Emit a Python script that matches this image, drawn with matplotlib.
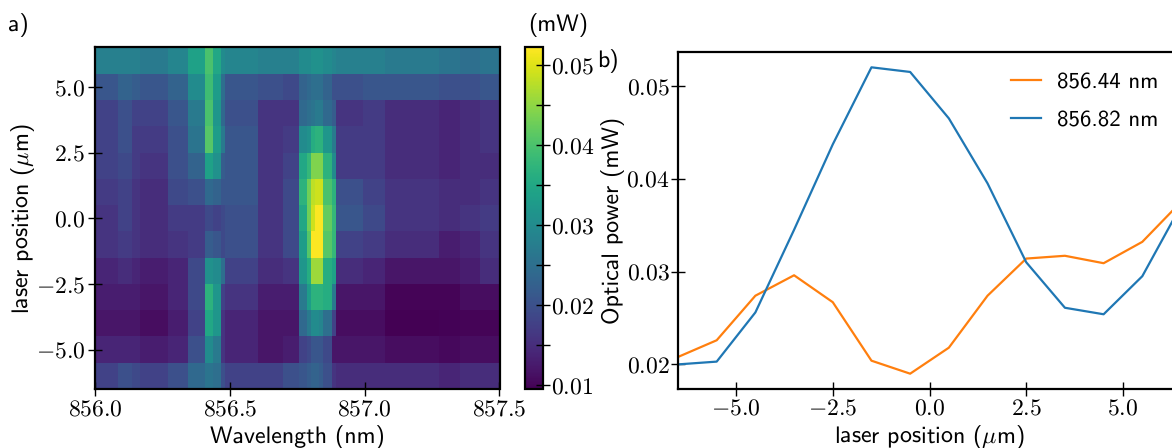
import matplotlib
matplotlib.use("Agg")
import matplotlib.pyplot as plt
import numpy as np
from matplotlib.ticker import FixedLocator

plt.rcParams["mathtext.fontset"] = "cm"
plt.rcParams["text.hinting"] = "no_hinting"
plt.rcParams["text.hinting_factor"] = 1

W, H = 1172, 448

wavelength_edges = [856.000, 856.087, 856.136, 856.167, 856.272, 856.346, 856.408, 856.439,
                    856.467, 856.482, 856.606, 856.699, 856.757, 856.785, 856.801, 856.816, 856.832,
                    856.847, 856.880, 856.894, 856.995, 857.076, 857.274, 857.354, 857.428, 857.500]
position_edges = [-6.5, -5.5, -4.5, -3.5, -2.5, -1.5, -0.5, 0.5, 1.5, 2.5, 3.5, 4.5, 5.5, 6.5]

row_m6 = [.018, .020, .019, .018, .020, .024, .026, .025, .020, .018, .018, .020, .021, .022, .023, .023, .022, .020, .016, .015, .015, .015, .014, .015, .015]
row_m5 = [.014, .014, .014, .013, .014, .020, .030, .027, .016, .014, .012, .013, .018, .019, .021, .021, .021, .019, .012, .012, .012, .011, .0105, .011, .011]
row_m4 = [.012, .012, .012, .011, .013, .018, .035, .032, .016, .014, .012, .012, .024, .027, .030, .030, .029, .025, .018, .011, .011, .0095, .0098, .010, .010]
row_m3 = [.013, .013, .013, .012, .014, .019, .037, .032, .018, .016, .013, .013, .027, .033, .037, .037, .037, .036, .027, .012, .012, .010, .010, .011, .011]
row_m2 = [.014, .015, .014, .013, .014, .019, .031, .030, .025, .018, .015, .016, .032, .036, .046, .046, .046, .036, .034, .015, .014, .012, .012, .013, .015]
row_m1 = [.016, .017, .016, .015, .016, .017, .022, .021, .019, .020, .016, .019, .033, .041, .052, .052, .052, .041, .038, .018, .017, .015, .013, .014, .016]
row_0 = [.016, .018, .016, .015, .017, .017, .019, .018, .019, .020, .016, .019, .035, .043, .049, .052, .052, .042, .038, .021, .019, .016, .015, .016, .017]
row_p1 = [.017, .018, .016, .015, .019, .020, .024, .023, .021, .021, .016, .019, .037, .043, .048, .049, .049, .040, .037, .020, .018, .016, .015, .015, .016]
row_p2 = [.018, .019, .017, .016, .020, .023, .034, .031, .022, .021, .016, .018, .035, .038, .044, .044, .044, .037, .030, .017, .017, .015, .014, .015, .015]
row_p3 = [.018, .020, .017, .017, .020, .026, .041, .033, .027, .021, .016, .017, .030, .031, .036, .037, .037, .032, .027, .017, .017, .015, .014, .015, .016]
row_p4 = [.018, .020, .018, .018, .021, .027, .040, .032, .024, .020, .016, .016, .024, .025, .026, .027, .027, .024, .022, .016, .017, .015, .014, .015, .016]
row_p5 = [.021, .023, .022, .021, .023, .030, .039, .033, .025, .021, .020, .019, .023, .024, .025, .025, .025, .023, .020, .020, .021, .021, .020, .020, .021]
row_p6 = [.028, .028, .028, .027, .029, .034, .040, .035, .030, .029, .028, .028, .030, .030, .031, .031, .031, .030, .029, .028, .028, .027, .026, .025, .026]
power_rows = [row_m6, row_m5, row_m4, row_m3, row_m2, row_m1, row_0, row_p1, row_p2, row_p3, row_p4, row_p5, row_p6]

laser_position = [-6.5, -5.5, -4.5, -3.5, -2.5, -1.5, -0.5, 0.5, 1.5, 2.5, 3.5, 4.5, 5.5, 6.5]
power_85644 = [.0208, .0226, .0274, .0296, .0267, .0204, .0190, .0218, .0274, .0314, .0317, .0309, .0332, .0375]
power_85682 = [.0200, .0203, .0256, .0345, .0437, .0520, .0515, .0465, .0395, .0310, .0261, .0254, .0295, .0371]

wl_ticks = [856.0, 856.5, 857.0, 857.5]
wl_labels = ["$856.0$", "$856.5$", "$857.0$", "$857.5$"]
pos_ticks_a = [-5.0, -2.5, 0.0, 2.5, 5.0]
pos_labels_a = ["$-5.0$", "$-2.5$", "$0.0$", "$2.5$", "$5.0$"]
cb_ticks = [0.01, 0.02, 0.03, 0.04, 0.05]
cb_labels = ["$0.01$", "$0.02$", "$0.03$", "$0.04$", "$0.05$"]
cb_minor = [0.015, 0.025, 0.035, 0.045]
pow_ticks = [0.02, 0.03, 0.04, 0.05]
pow_labels = ["$0.02$", "$0.03$", "$0.04$", "$0.05$"]
series_labels = ["856.44 nm", "856.82 nm"]
series_colors = ["#ff7f0e", "#1f77b4"]

SANS = "cmss10"
LABEL = 17.2
TICK = 17
SPINE = 1.6


def box(l, t, r, b):
    return [l / W, 1 - b / H, (r - l) / W, (b - t) / H]


def style(ax, pad=2):
    for s in ax.spines.values():
        s.set_linewidth(SPINE)
    ax.tick_params(which="both", direction="inout", length=10, width=1.0, labelsize=TICK, pad=pad)


fig = plt.figure(figsize=(W / 100, H / 100), dpi=100)

ax1 = fig.add_axes(box(95, 47.5, 499.5, 389))
mesh = ax1.pcolormesh(wavelength_edges, position_edges, np.array(power_rows),
                      cmap="viridis", vmin=0.0095, vmax=0.05225, shading="flat")
ax1.set_xlim(856.0, 857.5)
ax1.set_ylim(-6.5, 6.5)
ax1.set_xticks(wl_ticks, wl_labels)
ax1.set_yticks(pos_ticks_a, pos_labels_a)
style(ax1)
ax1.set_xlabel("Wavelength (nm)", fontfamily=SANS, fontsize=LABEL, labelpad=2.2)
ax1.set_ylabel(r"laser position ($\mu$m)", fontfamily=SANS, fontsize=LABEL, labelpad=-1)

cax = fig.add_axes(box(525, 47.5, 543, 389))
cb = fig.colorbar(mesh, cax=cax)
cb.outline.set_linewidth(SPINE)
cb.set_ticks(cb_ticks, labels=cb_labels)
cax.yaxis.set_minor_locator(FixedLocator(cb_minor))
cax.tick_params(which="both", direction="inout", length=10, width=1.0, labelsize=TICK, pad=1)

ax2 = fig.add_axes(box(678, 52, 1181, 389))
ax2.plot(laser_position, power_85644, color=series_colors[0], lw=1.6, label=series_labels[0])
ax2.plot(laser_position, power_85682, color=series_colors[1], lw=1.6, label=series_labels[1])
ax2.set_xlim(-6.5, 6.5)
ax2.set_ylim(0.01735, 0.05365)
ax2.set_xticks(pos_ticks_a, pos_labels_a)
ax2.set_yticks(pow_ticks, pow_labels)
style(ax2, pad=1)
ax2.set_xlabel(r"laser position ($\mu$m)", fontfamily=SANS, fontsize=LABEL, labelpad=2.2)
ax2.set_ylabel("Optical power (mW)", fontfamily=SANS, fontsize=LABEL, labelpad=1)
ax2.legend(loc="upper left", bbox_to_anchor=(1009 / W, 1 - 70 / H), bbox_transform=fig.transFigure,
           frameon=False, prop={"family": SANS, "size": 16.5}, handlelength=1.3, handletextpad=0.7,
           labelspacing=0.75, borderpad=0.1, borderaxespad=0)

fig.text(8 / W, 1 - 25 / H, "a)", family=SANS, fontsize=LABEL, va="center", ha="left")
fig.text(597 / W, 1 - 61 / H, "b)", family=SANS, fontsize=LABEL, va="center", ha="left")
fig.text(558 / W, 1 - 25 / H, "(mW)", family=SANS, fontsize=LABEL, va="center", ha="center")

fig.savefig("out.png", dpi=100)
